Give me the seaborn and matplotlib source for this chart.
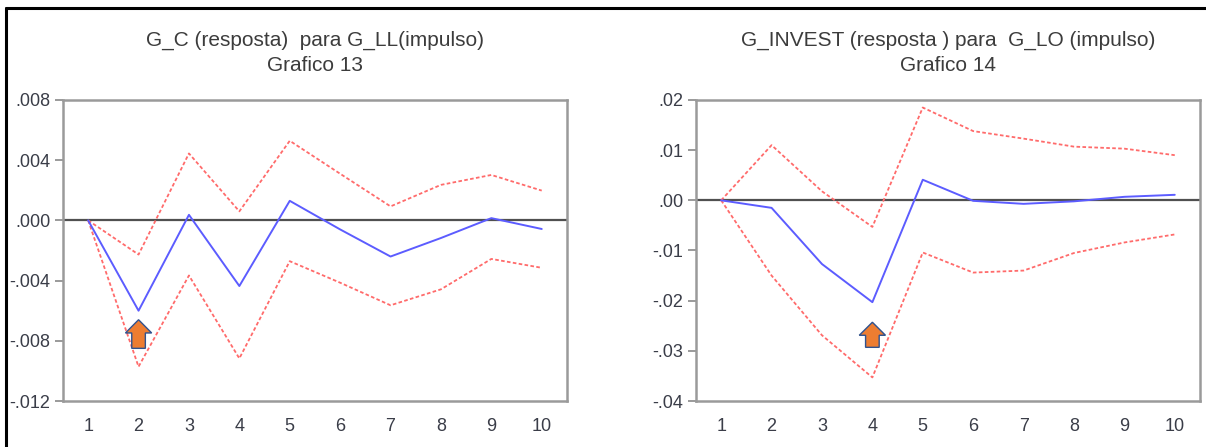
import numpy as np
import pandas as pd
import matplotlib
matplotlib.use("Agg")
import matplotlib.pyplot as plt
from matplotlib.lines import Line2D
from matplotlib.ticker import FixedLocator, FuncFormatter
import seaborn as sns

# ---------------------------------------------------------------
# dados (funcao impulso-resposta, 10 periodos)
# ---------------------------------------------------------------
periodos = list(range(1, 11))

# Grafico 13: G_C (resposta) para G_LL (impulso)
gc_resp = [0.0, -0.0060, 0.00037, -0.00436, 0.0013, -0.0006, -0.0024, -0.00117, 0.00015, -0.00057]
gc_sup = [0.0, -0.00227, 0.00445, 0.0006, 0.00529, 0.0031, 0.00093, 0.00236, 0.00302, 0.00198]
gc_inf = [0.0, -0.00972, -0.00366, -0.00917, -0.00271, -0.00414, -0.00564, -0.00458, -0.00256, -0.00315]

# Grafico 14: G_INVEST (resposta) para G_LO (impulso)
inv_resp = [0.0, -0.0015, -0.0127, -0.0203, 0.0041, -0.0001, -0.0007, -0.0002, 0.0007, 0.0011]
inv_sup = [0.0, 0.0110, 0.0018, -0.0053, 0.0185, 0.0138, 0.0123, 0.0107, 0.0103, 0.0090]
inv_inf = [0.0, -0.0150, -0.0269, -0.0353, -0.0104, -0.0144, -0.0140, -0.0105, -0.0084, -0.0068]

titulos = ["G_C (resposta)  para G_LL(impulso)\nGrafico 13",
           "G_INVEST (resposta ) para  G_LO (impulso)\nGrafico 14"]

yticks_13 = [0.008, 0.004, 0.000, -0.004, -0.008, -0.012]
yticks_14 = [0.02, 0.01, 0.00, -0.01, -0.02, -0.03, -0.04]

# setas laranja (periodo, base, ponta)
seta_13 = (2, -0.0085, -0.0066)
seta_14 = (4, -0.0293, -0.0243)

sns.set_style("white")
plt.rcParams["font.family"] = ["Liberation Sans", "DejaVu Sans"]

AZUL = "#5c5cff"
VERMELHO = "#ff6b6b"
CINZA = "#9a9a9a"
TXT = "#3a3d48"


def fmt_eviews(casas):
    # estilo EViews: .008, -.004 (sem zero a esquerda)
    def f(v, pos):
        s = f"{v:.{casas}f}"
        if abs(v) < 1e-12:
            s = f"{0:.{casas}f}"
        return s.replace("0.", ".", 1)
    return f


def painel(ax, resp, sup, inf, titulo, yticks, casas, seta, head_len):
    df = pd.DataFrame({"periodo": periodos, "resp": resp, "sup": sup, "inf": inf})
    ax.axhline(0, color="#505050", lw=1.6, zorder=1)
    sns.lineplot(data=df, x="periodo", y="sup", ax=ax, color=VERMELHO, lw=1.3,
                 linestyle=(0, (2.0, 1.3)), zorder=2)
    sns.lineplot(data=df, x="periodo", y="inf", ax=ax, color=VERMELHO, lw=1.3,
                 linestyle=(0, (2.0, 1.3)), zorder=2)
    sns.lineplot(data=df, x="periodo", y="resp", ax=ax, color=AZUL, lw=1.4, zorder=3)

    ax.set_xlim(0.5, 10.5)
    ax.set_ylim(min(yticks), max(yticks))
    ax.set_xlabel("")
    ax.set_ylabel("")

    ax.xaxis.set_major_locator(FixedLocator(periodos))
    ax.xaxis.set_minor_locator(FixedLocator(np.arange(0.5, 11, 1.0)))
    ax.yaxis.set_major_locator(FixedLocator(yticks))
    ax.yaxis.set_major_formatter(FuncFormatter(fmt_eviews(casas)))

    ax.tick_params(axis="x", which="major", length=0, pad=12, labelsize=13, labelcolor=TXT)
    ax.tick_params(axis="x", which="minor", length=6, width=1.4, color=CINZA, direction="out")
    ax.tick_params(axis="y", which="major", length=6, width=1.4, color=CINZA, direction="out",
                   pad=3, labelsize=13, labelcolor=TXT, left=True)

    for s in ax.spines.values():
        s.set_visible(True)
        s.set_color(CINZA)
        s.set_linewidth(1.8)

    ax.text(0.5, 1.157, titulo, transform=ax.transAxes, ha="center", va="center",
            fontsize=15, color="#3c3c3c", linespacing=1.38)

    x, base, ponta = seta
    ax.arrow(x, base, 0, ponta - base, width=0.27, head_width=0.52, head_length=head_len,
             length_includes_head=True, fc="#ED7D31", ec="#2F528F", lw=1.0, zorder=5)


fig = plt.figure(figsize=(12.06, 4.47), dpi=100)
ax1 = fig.add_axes([0.0522, 0.1029, 0.4179, 0.6734])
ax2 = fig.add_axes([0.5771, 0.1029, 0.4179, 0.6734])

painel(ax1, gc_resp, gc_sup, gc_inf, titulos[0], yticks_13, 3, seta_13, 0.00088)
painel(ax2, inv_resp, inv_sup, inv_inf, titulos[1], yticks_14, 2, seta_14, 0.0026)

# moldura preta (topo e esquerda)
fig.add_artist(Line2D([6 / 1206, 1.0], [1 - 8 / 447, 1 - 8 / 447], color="black", lw=2.2,
                      transform=fig.transFigure))
fig.add_artist(Line2D([6 / 1206, 6 / 1206], [0.0, 1 - 8 / 447], color="black", lw=2.2,
                      transform=fig.transFigure))

fig.savefig("out.png", dpi=100)
